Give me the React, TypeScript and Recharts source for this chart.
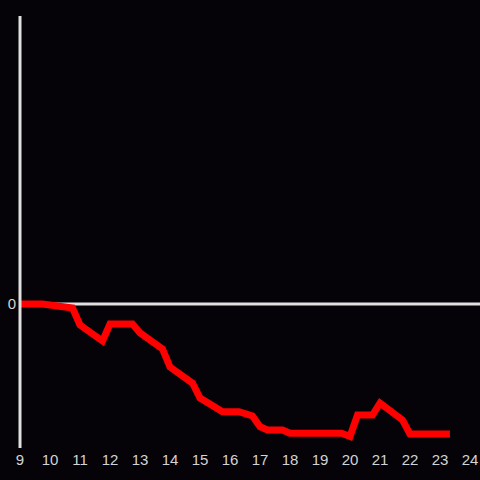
import React from "react";
import { LineChart, Line, XAxis, YAxis, CartesianGrid } from "recharts";

const hours = [9, 9.75, 10.75, 11, 11.75, 12, 12.75, 13, 13.75, 14, 14.75, 15, 15.75, 16.3, 16.75, 17, 17.25, 17.75, 18, 19.72, 20, 20.25, 20.75, 21, 21.75, 22, 23.33];
const values = [0, 0, -0.028, -0.146, -0.257, -0.139, -0.139, -0.201, -0.3125, -0.4375, -0.549, -0.653, -0.748, -0.748, -0.778, -0.852, -0.875, -0.875, -0.898, -0.898, -0.92, -0.771, -0.771, -0.688, -0.806, -0.903, -0.903];
const xTicks = [9, 10, 11, 12, 13, 14, 15, 16, 17, 18, 19, 20, 21, 22, 23, 24];
const yTicks = [0];

const data = hours.map((h, i) => ({ h, v: values[i] }));

export default function App() {
  return (
    <div style={{ position: "fixed", left: 0, top: 0, width: 480, height: 480, background: "#050307" }}>
      <LineChart width={480} height={480} data={data} margin={{ top: 16, right: 0, bottom: 0, left: 0 }}>
        <CartesianGrid
          vertical={false}
          horizontal={true}
          horizontalValues={yTicks}
          syncWithTicks={false}
          stroke="#e0e0e0"
          strokeWidth={3}
        />
        <XAxis
          dataKey="h"
          type="number"
          domain={[9, 24.333]}
          ticks={xTicks}
          axisLine={false}
          tickLine={false}
          tickSize={0}
          tickMargin={6}
          height={32}
          interval={0}
          tick={{ fill: "#d4d4d4", fontSize: 15, fontFamily: "Liberation Sans" }}
        />
        <YAxis
          type="number"
          domain={[-1, 2]}
          ticks={yTicks}
          width={20}
          axisLine={{ stroke: "#e0e0e0", strokeWidth: 3 }}
          tickLine={false}
          tickSize={0}
          tickMargin={4}
          tick={{ fill: "#d4d4d4", fontSize: 15, fontFamily: "Liberation Sans" }}
        />
        <Line type="linear" dataKey="v" stroke="#ff0000" strokeWidth={7} dot={false} isAnimationActive={false} />
      </LineChart>
    </div>
  );
}
